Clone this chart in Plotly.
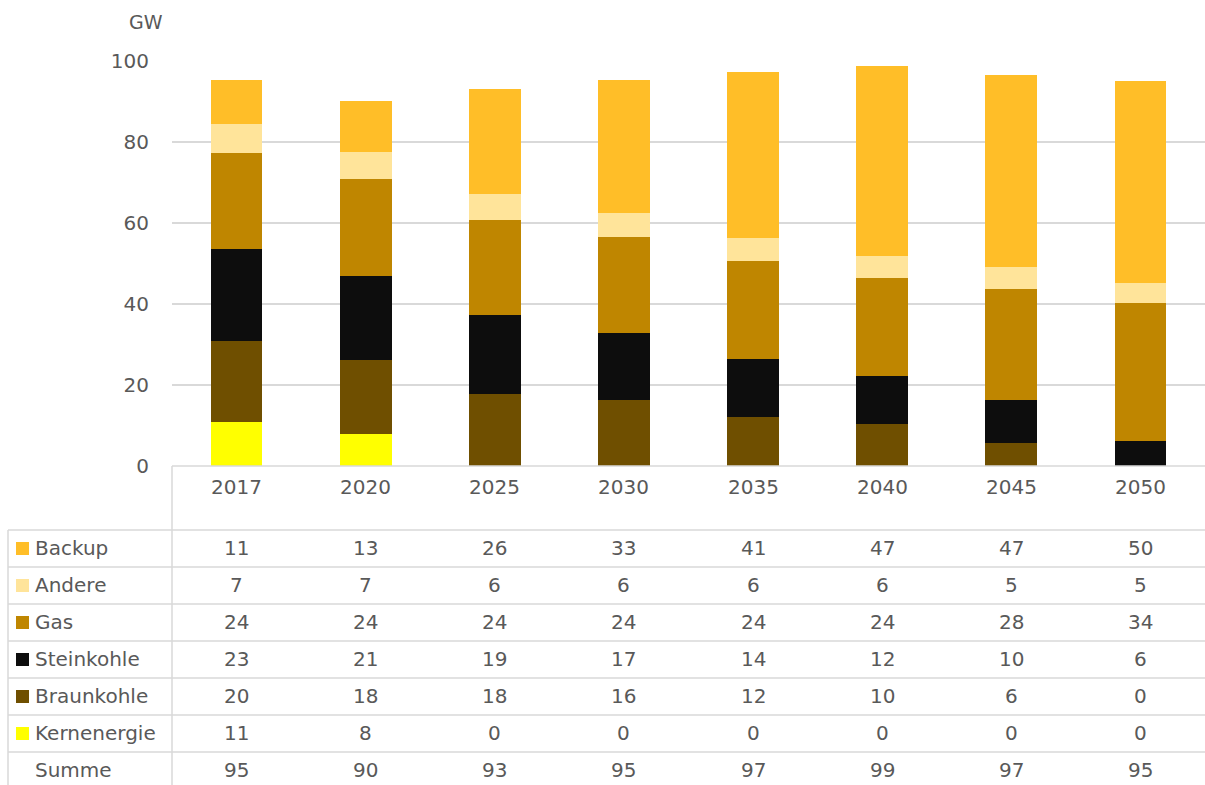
import plotly.graph_objects as go

years = ['2017', '2020', '2025', '2030', '2035', '2040', '2045', '2050']

# GW, von unten nach oben gestapelt
kernenergie = [10.9, 8.0, 0, 0, 0, 0, 0, 0]
braunkohle = [20.0, 18.2, 17.9, 16.2, 12.2, 10.3, 5.8, 0]
steinkohle = [22.6, 20.6, 19.3, 16.6, 14.3, 12.0, 10.4, 6.2]
gas = [23.9, 24.0, 23.6, 23.7, 24.1, 24.0, 27.6, 34.0]
andere = [7.0, 6.7, 6.4, 6.0, 5.6, 5.6, 5.4, 5.1]
backup = [10.8, 12.6, 25.9, 32.8, 41.2, 46.9, 47.4, 49.8]

series = [
    ('Kernenergie', kernenergie, '#FFFF00'),
    ('Braunkohle', braunkohle, '#6F4F00'),
    ('Steinkohle', steinkohle, '#0D0D0D'),
    ('Gas', gas, '#BF8600'),
    ('Andere', andere, '#FFE49A'),
    ('Backup', backup, '#FFBE28'),
]

W, H = 1205, 785
L, T, B = 172, 61, 319
plot_w = W - L
plot_h = H - T - B
grey = '#595959'
line = '#d9d9d9'
font = 'DejaVu Sans'


def px_x(px):
    return (px - L) / plot_w


def px_y(py):
    return (H - B - py) / plot_h


fig = go.Figure()
for name, vals, color in series:
    fig.add_trace(go.Bar(x=years, y=vals, name=name, marker=dict(color=color, line=dict(width=0))))

shapes = []
annotations = []

# Tabelle unter dem Diagramm
header_bottom = 530
row_h = 37
rows = list(reversed(series)) + [('Summe', None, None)]
totals = [sum(v) for v in zip(*[s[1] for s in series])]

shapes.append(dict(type='line', xref='paper', yref='paper', x0=0, x1=1, y0=0, y1=0,
                   line=dict(color=line, width=1.5)))
shapes.append(dict(type='line', xref='paper', yref='paper', x0=0, x1=0, y0=0, y1=px_y(H),
                   line=dict(color=line, width=1.5)))
shapes.append(dict(type='line', xref='paper', yref='paper', x0=px_x(8), x1=px_x(8),
                   y0=px_y(header_bottom), y1=px_y(H), line=dict(color=line, width=1.5)))


def cell(x, xref, py, text, xanchor='center'):
    return dict(x=x, xref=xref, y=px_y(py), yref='paper', text=text, showarrow=False,
                xanchor=xanchor, yanchor='middle', font=dict(size=20, color=grey, family=font))


for i, yr in enumerate(years):
    annotations.append(cell(i, 'x', 487, yr))

for r, (name, vals, color) in enumerate(rows):
    top = header_bottom + r * row_h
    shapes.append(dict(type='line', xref='paper', yref='paper', x0=px_x(8), x1=1,
                       y0=px_y(top), y1=px_y(top), line=dict(color=line, width=1.5)))
    cy = top + row_h / 2
    if color:
        shapes.append(dict(type='rect', xref='paper', yref='paper', x0=px_x(16), x1=px_x(29),
                           y0=px_y(cy - 6.5), y1=px_y(cy + 6.5), fillcolor=color, line=dict(width=0)))
    annotations.append(cell(px_x(33), 'paper', cy - 1, name, xanchor='left'))
    cells = vals if vals is not None else totals
    for i, v in enumerate(cells):
        annotations.append(cell(i, 'x', cy - 1, str(round(v))))

annotations.append(dict(x=px_x(127), xref='paper', y=px_y(22), yref='paper', text='GW',
                        showarrow=False, yanchor='middle',
                        font=dict(size=19, color=grey, family=font)))

fig.update_layout(
    width=W, height=H,
    margin=dict(l=L, r=0, t=T, b=B),
    barmode='stack',
    bargap=0.6,
    showlegend=False,
    plot_bgcolor='white',
    paper_bgcolor='white',
    font=dict(family=font, size=20, color=grey),
    shapes=shapes,
    annotations=annotations,
)
fig.update_xaxes(type='category', showticklabels=False, showgrid=False, showline=False,
                 range=[-0.5, 7.5])
fig.update_yaxes(range=[0, 100], dtick=20, showgrid=True, gridcolor=line, gridwidth=1.5,
                 zeroline=False, showline=False, ticks='', ticklabelstandoff=22,
                 tickfont=dict(size=20, color=grey, family=font))

fig.write_html('out.html', config={'displayModeBar': False},
               post_script="document.body.style.margin='0';")
